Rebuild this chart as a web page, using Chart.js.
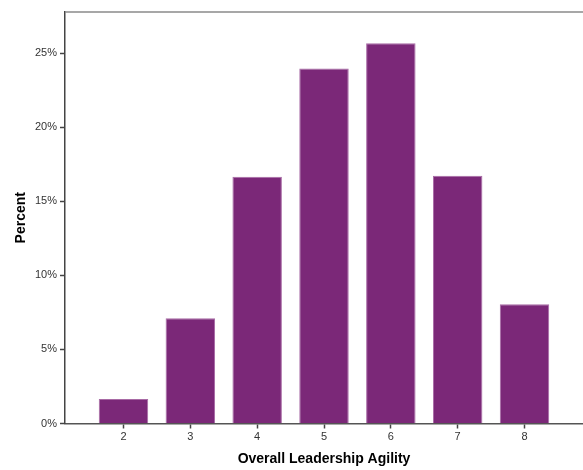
<!DOCTYPE html>
<html lang="en">
<head>
  <meta charset="UTF-8" />
  <title>Overall Leadership Agility</title>
  <script src="https://cdn.jsdelivr.net/npm/chart.js"></script>
  <style>
    body {
      margin: 0;
      background: #ffffff;
    }
    #wrap {
      width: 583px;
      height: 470px;
    }
  </style>
</head>
<body>
  <div id="wrap"><canvas id="agilityChart"></canvas></div>

  <script>
    // scores on the x axis and percent of respondents
    const scores = [2, 3, 4, 5, 6, 7, 8];
    const percents = [1.66, 7.11, 16.66, 23.95, 25.66, 16.72, 8.05];
    const yTicks = [0, 5, 10, 15, 20, 25];

    const points = scores.map((s, i) => ({ x: s, y: percents[i] }));

    // top frame line of the plot area
    const topFrame = {
      id: 'topFrame',
      afterDraw(chart) {
        const { ctx, chartArea } = chart;
        ctx.save();
        ctx.strokeStyle = '#8a8a8a';
        ctx.lineWidth = 1.5;
        ctx.beginPath();
        ctx.moveTo(chartArea.left, chartArea.top);
        ctx.lineTo(chartArea.right, chartArea.top);
        ctx.stroke();
        ctx.restore();
      }
    };

    new Chart(document.getElementById('agilityChart'), {
      type: 'bar',
      data: {
        datasets: [{
          data: points,
          backgroundColor: '#7b2878',
          borderColor: '#a86aa5',
          borderWidth: 1,
          borderSkipped: 'bottom',
          barPercentage: 0.74,
          categoryPercentage: 1
        }]
      },
      plugins: [topFrame],
      options: {
        responsive: true,
        maintainAspectRatio: false,
        animation: false,
        layout: { padding: { top: 12, right: 0, left: 0, bottom: 0 } },
        plugins: {
          legend: { display: false },
          tooltip: { enabled: false }
        },
        scales: {
          x: {
            type: 'linear',
            offset: false,
            min: 1.125,
            max: 8.875,
            afterBuildTicks: (axis) => {
              axis.ticks = scores.map(v => ({ value: v }));
            },
            afterFit: (axis) => { axis.height = 46.5; },
            border: { color: '#555555', width: 1.5 },
            grid: { offset: false, drawOnChartArea: false, tickLength: 5, tickColor: '#444444', tickWidth: 1.5 },
            ticks: {
              color: '#333333',
              font: { family: 'Arial, "Liberation Sans", sans-serif', size: 11 },
              padding: 2,
              maxRotation: 0
            },
            title: {
              display: true,
              text: 'Overall Leadership Agility',
              color: '#000000',
              font: { family: 'Arial, "Liberation Sans", sans-serif', size: 14, weight: 'bold' },
              padding: { top: 0, bottom: 2 }
            }
          },
          y: {
            min: 0,
            max: 27.77,
            afterBuildTicks: (axis) => {
              axis.ticks = yTicks.map(v => ({ value: v }));
            },
            afterFit: (axis) => { axis.width = 65; },
            border: { color: '#444444', width: 1.5 },
            grid: { drawOnChartArea: false, tickLength: 5, tickColor: '#444444', tickWidth: 1.5 },
            ticks: {
              color: '#333333',
              font: { family: 'Arial, "Liberation Sans", sans-serif', size: 11 },
              padding: 3,
              callback: (v) => v + '%'
            },
            title: {
              display: true,
              text: 'Percent',
              color: '#000000',
              font: { family: 'Arial, "Liberation Sans", sans-serif', size: 14, weight: 'bold' },
              padding: { top: 13, bottom: 0 }
            }
          }
        }
      }
    });
  </script>
</body>
</html>
